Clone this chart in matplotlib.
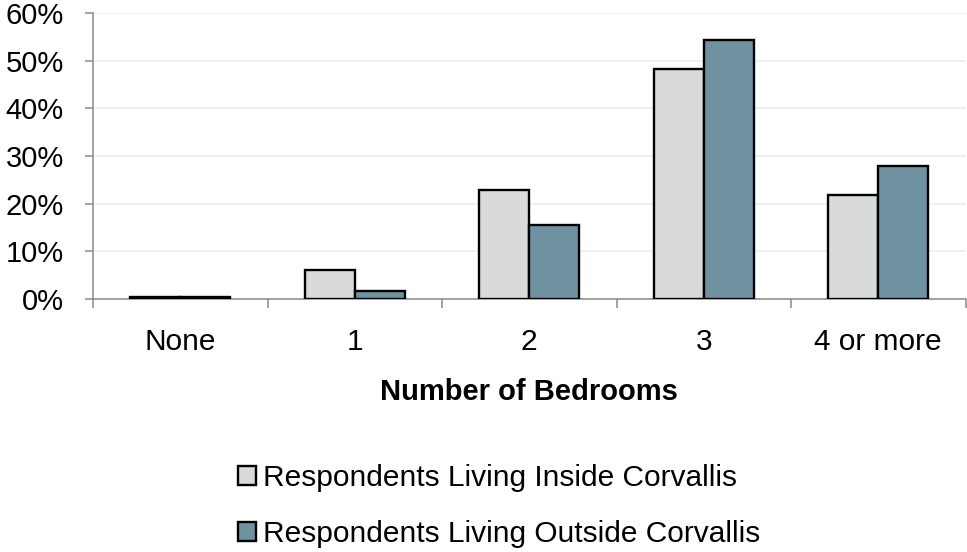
import numpy as np
import matplotlib
matplotlib.use("Agg")
import matplotlib.pyplot as plt
from matplotlib.ticker import FuncFormatter, FixedLocator

# --- Data ---
categories = ["None", "1", "2", "3", "4 or more"]
inside = [0.5, 6.1, 22.9, 48.2, 21.8]     # % respondents living inside Corvallis
outside = [0.5, 1.6, 15.6, 54.4, 28.0]    # % respondents living outside Corvallis
series_names = ["Respondents Living Inside Corvallis",
                "Respondents Living Outside Corvallis"]
y_ticks = [0, 10, 20, 30, 40, 50, 60]

plt.rcParams["font.family"] = ["Liberation Sans", "DejaVu Sans"]

fig = plt.figure(figsize=(9.67, 5.52), dpi=100)
ax = fig.add_axes([93 / 967, 1 - 299 / 552, (965.5 - 93) / 967, (299 - 13) / 552])

x = np.arange(len(categories))
w = 0.286
ax.bar(x - w / 2, inside, w, color="#D9DBDA", edgecolor="black", linewidth=1.7,
       label=series_names[0], zorder=3)
ax.bar(x + w / 2, outside, w, color="#6F92A1", edgecolor="black", linewidth=1.7,
       label=series_names[1], zorder=3)

ax.set_xlim(-0.5, len(categories) - 0.5)
ax.set_ylim(0, 60)
ax.set_yticks(y_ticks)
ax.yaxis.set_major_formatter(FuncFormatter(lambda v, p: f"{v:.0f}%"))
ax.grid(axis="y", color="#EDEDED", linewidth=1.2, zorder=0)

ax.set_xticks(x)
ax.set_xticklabels(categories)
ax.xaxis.set_minor_locator(FixedLocator(np.arange(len(categories) + 1) - 0.5))
ax.tick_params(axis="x", which="major", length=0, pad=21, labelsize=21.5)
ax.tick_params(axis="x", which="minor", length=6.5, width=1.1, color="#898989")
ax.tick_params(axis="y", length=6, width=1.1, color="#898989", pad=15, labelsize=21)

for s in ["top", "right"]:
    ax.spines[s].set_visible(False)
for s in ["left", "bottom"]:
    ax.spines[s].set_color("#898989")
    ax.spines[s].set_linewidth(1.1)

ax.set_xlabel("Number of Bedrooms", fontsize=21, fontweight="bold", labelpad=16)

fig.legend(loc="center left", bbox_to_anchor=(238 / 967, 1 - 505.75 / 552),
           frameon=False, fontsize=21.5, handlelength=0.6, handleheight=0.6,
           handletextpad=0.25, labelspacing=0.95, borderpad=0, borderaxespad=0)

fig.savefig("out.png", dpi=100)
